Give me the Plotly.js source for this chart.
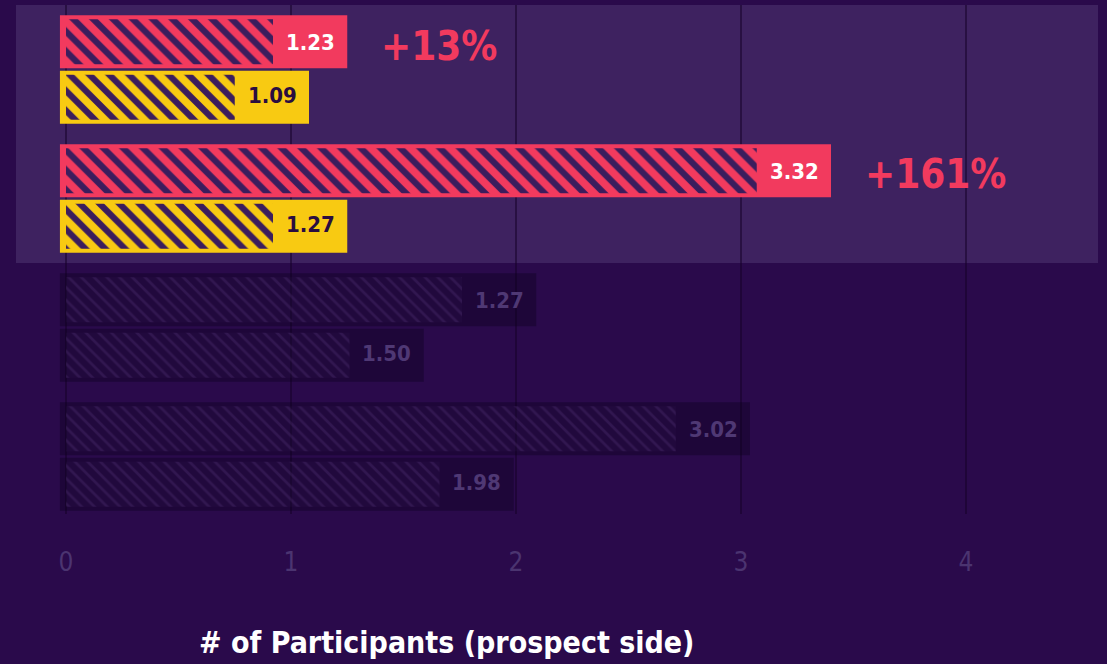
<!DOCTYPE html>
<html>
<head>
<meta charset="utf-8">
<script src="https://cdn.plot.ly/plotly-3.0.1.min.js"></script>
<style>
  html, body { margin: 0; padding: 0; background: #2a0a4b; }
  #chart { width: 1107px; height: 664px; }
</style>
</head>
<body>
<div id="chart"></div>
<script>
// ---- data ----
const categories = ['Group 1', 'Group 2', 'Group 3', 'Group 4'];
const topLabels = ['1.23', '3.32', '1.27', '3.02'];
const bottomLabels = ['1.09', '1.27', '1.50', '1.98'];
const topLength = [1.25, 3.40, 2.09, 3.04];
const bottomLength = [1.08, 1.25, 1.59, 1.99];
const highlighted = [true, true, false, false];
const tickValues = [0, 1, 2, 3, 4];
const axisTitle = '# of Participants (prospect side)';

// ---- style ----
const FONT = '"DejaVu Sans Condensed", "Liberation Sans Narrow", Roboto, sans-serif';
const BG = '#2a0a4b';
const HILITE = '#3e2260';
const PINK = '#f23a5e';
const YELLOW = '#f8ca12';
const DIM = 'rgba(12,0,30,0.4)';
const DIM_HATCH_BG = 'rgba(60,30,90,0.12)';
const DIM_HATCH_FG = 'rgba(85,50,120,0.3)';
const HATCH_FG = '#3b1d5d';
const DIM_TEXT = '#4f3874';
const PAD = 0.027;        // bar drawn slightly left of zero
const LABEL_BOX = 0.33;   // solid label area at bar end

const pick = (arr, a, b) => arr.map(h => h ? a : b);

function solid(lengths, colorHi, offset) {
  return {
    type: 'bar', orientation: 'h', y: categories,
    x: lengths.map(v => v + PAD), base: -PAD,
    offset: offset, width: 0.41,
    marker: { color: pick(highlighted, colorHi, DIM), line: { width: 0 } },
    hoverinfo: 'skip', showlegend: false
  };
}
function hatch(lengths, colorHi, offset) {
  return {
    type: 'bar', orientation: 'h', y: categories,
    x: lengths.map(v => v - LABEL_BOX), base: 0,
    offset: offset, width: 0.35,
    marker: {
      color: colorHi,           // scalar so the per-bar pattern colours are used
      line: { width: 0 },
      pattern: {
        shape: '\\',
        fillmode: 'replace',
        bgcolor: pick(highlighted, colorHi, DIM_HATCH_BG),
        fgcolor: pick(highlighted, HATCH_FG, DIM_HATCH_FG),
        size: pick(highlighted, 14, 9),
        solidity: pick(highlighted, 0.45, 0.3)
      }
    },
    hoverinfo: 'skip', showlegend: false
  };
}

const traces = [
  solid(topLength, PINK, -0.42),
  solid(bottomLength, YELLOW, 0.01),
  hatch(topLength, PINK, -0.39),
  hatch(bottomLength, YELLOW, 0.04)
];

const annotations = [];
categories.forEach((c, i) => {
  const hi = highlighted[i];
  annotations.push({
    x: topLength[i], y: c, xref: 'x', yref: 'y', xshift: -37, yshift: 27,
    text: topLabels[i], showarrow: false, xanchor: 'center', yanchor: 'middle',
    font: { family: FONT, size: 22, color: hi ? '#ffffff' : DIM_TEXT, weight: 'bold' }
  });
  annotations.push({
    x: bottomLength[i], y: c, xref: 'x', yref: 'y', xshift: -37, yshift: -26,
    text: bottomLabels[i], showarrow: false, xanchor: 'center', yanchor: 'middle',
    font: { family: FONT, size: 22, color: hi ? '#2a0d40' : DIM_TEXT, weight: 'bold' }
  });
  if (hi) {
    const pct = Math.round((parseFloat(topLabels[i]) / parseFloat(bottomLabels[i]) - 1) * 100);
    annotations.push({
      x: topLength[i], y: c, xref: 'x', yref: 'y', xshift: 32, yshift: 24,
      text: '+' + pct + '%', showarrow: false, xanchor: 'left', yanchor: 'middle',
      font: { family: FONT, size: 40, color: PINK, weight: 'bold' }
    });
  }
});
annotations.push({
  x: 446 / 1107, y: -0.252, xref: 'paper', yref: 'paper',
  text: axisTitle, showarrow: false, xanchor: 'center', yanchor: 'middle',
  font: { family: FONT, size: 30, color: '#ffffff', weight: 'bold' }
});

const layout = {
  width: 1107, height: 664,
  margin: { l: 0, r: 0, t: 5, b: 150, pad: 0 },
  paper_bgcolor: BG, plot_bgcolor: BG,
  barmode: 'overlay',
  showlegend: false,
  xaxis: {
    range: [-66 / 225, 1041 / 225],
    tickvals: tickValues,
    ticktext: tickValues.map(String),
    showgrid: true, gridcolor: 'rgba(22,2,42,0.55)', gridwidth: 2,
    zeroline: false, showline: false, ticks: '',
    ticklabelstandoff: 30,
    tickfont: { family: FONT, size: 26, color: '#4b3470' },
    fixedrange: true
  },
  yaxis: {
    type: 'category',
    range: [3.446, -0.5],
    showticklabels: false, showgrid: false, zeroline: false, showline: false, ticks: '',
    fixedrange: true
  },
  shapes: [{
    type: 'rect', layer: 'below',
    xref: 'paper', yref: 'y',
    x0: 16 / 1107, x1: 1098 / 1107, y0: -0.5, y1: 1.5,
    fillcolor: HILITE, line: { width: 0 }
  }],
  annotations: annotations
};

Plotly.newPlot('chart', traces, layout, { displayModeBar: false, staticPlot: true });
</script>
</body>
</html>
